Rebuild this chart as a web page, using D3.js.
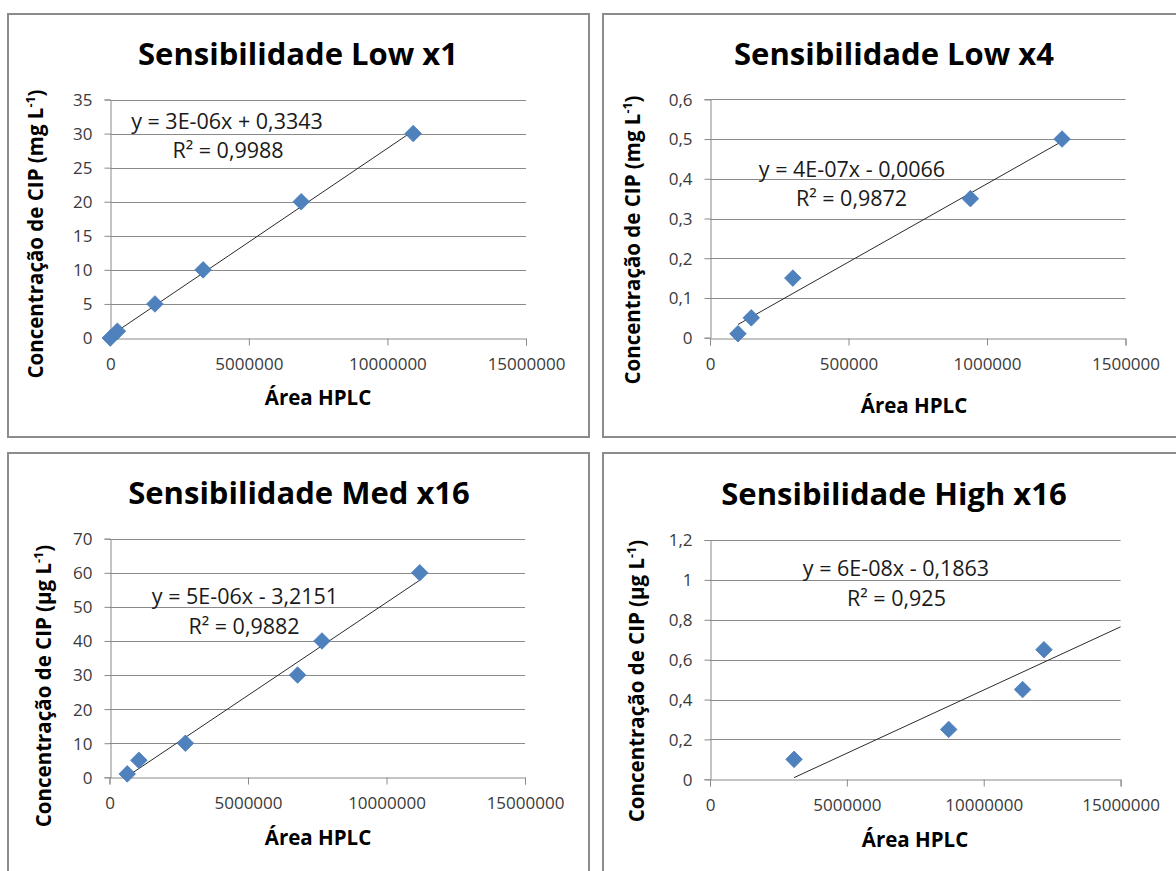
<!DOCTYPE html>
<html>
<head>
<meta charset="utf-8">
<script src="https://cdn.jsdelivr.net/npm/d3@7"></script>
<style>
  html, body { margin: 0; padding: 0; background: #fff; }
  svg { display: block; }
</style>
</head>
<body>
<svg id="chart" width="1176" height="871"></svg>
<script>
// ---------------- DATA ----------------
const titles = ["Sensibilidade Low x1", "Sensibilidade Low x4", "Sensibilidade Med x16", "Sensibilidade High x16"];
const yUnits = ["mg", "mg", "µg", "µg"];
const xAxisTitle = "Área HPLC";

const xTicksLarge = [0, 5000000, 10000000, 15000000];
const xTicksSmall = [0, 500000, 1000000, 1500000];
const yTicks1 = [0, 5, 10, 15, 20, 25, 30, 35];
const yTicks2 = [0, 0.1, 0.2, 0.3, 0.4, 0.5, 0.6];
const yTicks3 = [0, 10, 20, 30, 40, 50, 60, 70];
const yTicks4 = [0, 0.2, 0.4, 0.6, 0.8, 1, 1.2];

const area1 = [0, 256000, 1610000, 3350000, 6890000, 10930000];
const conc1 = [0, 1, 5, 10, 20, 30];
const area2 = [101000, 149000, 299000, 940000, 1271000];
const conc2 = [0.01, 0.05, 0.15, 0.35, 0.5];
const area3 = [640000, 1060000, 2740000, 6790000, 7670000, 11200000];
const conc3 = [1, 5, 10, 30, 40, 60];
const area4 = [3070000, 8720000, 11420000, 12200000];
const conc4 = [0.1, 0.25, 0.45, 0.65];

// trend lines as drawn in the picture
const trendSlope = [2.75e-6, 3.94e-7, 5.45e-6, 6.34e-8];
const trendIntercept = [0.3343, -0.0066, -3.2151, -0.1863];
const trendFrom = [0, 101000, 640000, 3070000];
const trendTo = [10930000, 1271000, 11200000, 15000000];

const equations = ["y = 3E-06x + 0,3343", "y = 4E-07x - 0,0066", "y = 5E-06x - 3,2151", "y = 6E-08x - 0,1863"];
const rSquared = ["R² = 0,9988", "R² = 0,9872", "R² = 0,9882", "R² = 0,925"];

// ---------------- LAYOUT ----------------
const panels = [
  { area: area1, conc: conc1, xTicks: xTicksLarge, yTicks: yTicks1,
    frame: [8, 14, 581, 423], plot: { l: 110.3, r: 526, t: 99.5, b: 338 },
    title: [298, 65], ytitle: [43, 234], xtitle: [318, 405], xtickY: 370, eq: [227, 129], r2: [228, 158] },
  { area: area2, conc: conc2, xTicks: xTicksSmall, yTicks: yTicks2,
    frame: [603, 14, 600, 423], plot: { l: 710, r: 1125.5, t: 99.3, b: 337.7 },
    title: [894, 65], ytitle: [640, 240], xtitle: [914, 413], xtickY: 370, eq: [852, 177], r2: [851.5, 206] },
  { area: area3, conc: conc3, xTicks: xTicksLarge, yTicks: yTicks3,
    frame: [8, 453, 581, 430], plot: { l: 109.5, r: 525, t: 538.7, b: 777.3 },
    title: [299, 504], ytitle: [51, 686], xtitle: [318, 845], xtickY: 809, eq: [245, 604], r2: [244, 634] },
  { area: area4, conc: conc4, xTicks: xTicksLarge, yTicks: yTicks4,
    frame: [603, 453, 600, 430], plot: { l: 710, r: 1120.6, t: 540, b: 779.3 },
    title: [894, 505], ytitle: [644, 681], xtitle: [915, 847], xtickY: 811, eq: [896, 576], r2: [896.5, 606] }
];

const FONT = "'Open Sans', 'DejaVu Sans', sans-serif";
const GRID = "#8a8a8a";
const fmt = d => String(d).replace(".", ",");

const svg = d3.select("#chart");

panels.forEach((p, i) => {
  const g = svg.append("g");
  const [fx, fy, fw, fh] = p.frame;
  g.append("rect").attr("x", fx).attr("y", fy).attr("width", fw).attr("height", fh)
    .attr("fill", "#fff").attr("stroke", "#8c8c8c").attr("stroke-width", 2);

  const x = d3.scaleLinear().domain([p.xTicks[0], p.xTicks[p.xTicks.length - 1]]).range([p.plot.l, p.plot.r]);
  const y = d3.scaleLinear().domain([p.yTicks[0], p.yTicks[p.yTicks.length - 1]]).range([p.plot.b, p.plot.t]);

  // horizontal gridlines
  g.append("g").selectAll("line").data(p.yTicks.slice(1)).join("line")
    .attr("x1", p.plot.l).attr("x2", p.plot.r)
    .attr("y1", d => Math.round(y(d)) + 0.5).attr("y2", d => Math.round(y(d)) + 0.5)
    .attr("stroke", GRID).attr("stroke-width", 1);

  // y axis
  const yAxis = g.append("g").attr("transform", `translate(${Math.round(p.plot.l) + 0.5},0)`)
    .call(d3.axisLeft(y).tickValues(p.yTicks).tickFormat(fmt).tickSize(6).tickPadding(12));
  // x axis
  const xAxis = g.append("g").attr("transform", `translate(0,${Math.round(p.plot.b) + 0.5})`)
    .call(d3.axisBottom(x).tickValues(p.xTicks).tickFormat(d => String(d)).tickSize(7).tickPadding(0));
  [yAxis, xAxis].forEach(a => {
    a.select(".domain").attr("stroke", GRID).attr("stroke-width", 1);
    a.selectAll(".tick line").attr("stroke", GRID).attr("stroke-width", 1);
    a.selectAll(".tick text").attr("font-family", FONT).attr("font-size", 17).attr("fill", "#3a3a3a");
  });
  yAxis.selectAll(".tick line").attr("y1", 0).attr("y2", 0);
  yAxis.selectAll(".tick text").attr("dy", "0.35em");
  xAxis.selectAll(".tick text").attr("dy", null).attr("y", p.xtickY - Math.round(p.plot.b) - 0.5);

  // trend line
  const tx = [trendFrom[i], trendTo[i]];
  g.append("path")
    .attr("d", d3.line().x(d => x(d)).y(d => y(trendSlope[i] * d + trendIntercept[i]))(tx))
    .attr("fill", "none").attr("stroke", "#2b2b2b").attr("stroke-width", 1);

  // markers (diamonds)
  const h = 8.3;
  g.append("g").selectAll("path").data(p.area.map((a, k) => [a, p.conc[k]])).join("path")
    .attr("transform", d => `translate(${x(d[0])},${y(d[1])})`)
    .attr("d", `M0,${-h}L${h},0L0,${h}L${-h},0Z`)
    .attr("fill", "#4F81BD").attr("stroke", "#4A7EBB").attr("stroke-width", 0.8);

  // title
  g.append("text").attr("x", p.title[0]).attr("y", p.title[1]).attr("text-anchor", "middle")
    .attr("font-family", FONT).attr("font-weight", "bold").attr("font-size", 31).attr("fill", "#000")
    .text(titles[i]);

  // y axis title
  const yt = g.append("text").attr("transform", `translate(${p.ytitle[0]},${p.ytitle[1]}) rotate(-90)`)
    .attr("text-anchor", "middle").attr("font-family", FONT).attr("font-weight", "bold")
    .attr("font-size", 20.5).attr("fill", "#000");
  yt.append("tspan").text(`Concentração de CIP (${yUnits[i]} L`);
  yt.append("tspan").attr("font-size", 12.5).attr("dy", -8).text("-1");
  yt.append("tspan").attr("dy", 8).text(")");

  // x axis title
  g.append("text").attr("x", p.xtitle[0]).attr("y", p.xtitle[1]).attr("text-anchor", "middle")
    .attr("font-family", FONT).attr("font-weight", "bold").attr("font-size", 20.5).attr("fill", "#000")
    .text(xAxisTitle);

  // equation labels
  g.append("text").attr("x", p.eq[0]).attr("y", p.eq[1]).attr("text-anchor", "middle")
    .attr("font-family", FONT).attr("font-size", 21.5).attr("fill", "#1a1a1a").text(equations[i]);
  g.append("text").attr("x", p.r2[0]).attr("y", p.r2[1]).attr("text-anchor", "middle")
    .attr("font-family", FONT).attr("font-size", 21.5).attr("fill", "#1a1a1a").text(rSquared[i]);
});
</script>
</body>
</html>
